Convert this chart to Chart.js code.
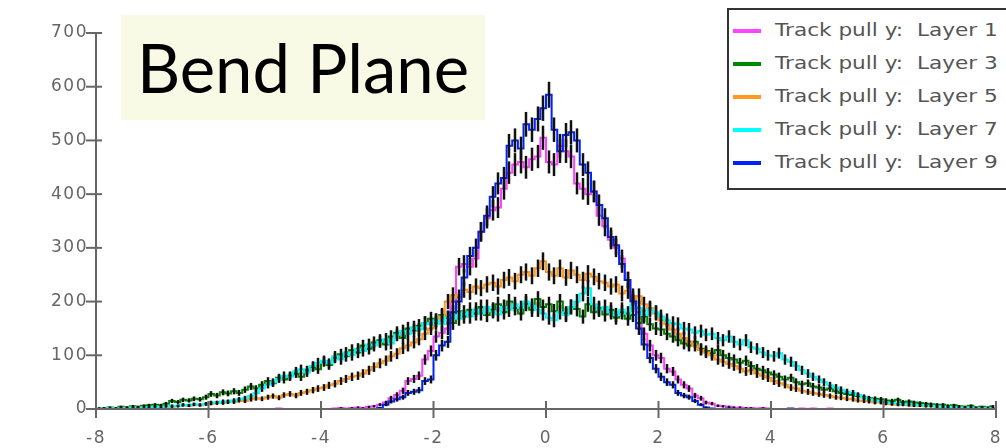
<!DOCTYPE html>
<html>
<head>
<meta charset="utf-8">
<script src="https://cdn.jsdelivr.net/npm/chart.js@4/dist/chart.umd.min.js"></script>
<style>
html,body{margin:0;padding:0;background:#fff;overflow:hidden}
#wrap{position:relative;width:1006px;height:448px;overflow:hidden}
#title{position:absolute;left:121px;top:15px;width:364px;height:105px;background:#f8fae6;font-family:Lato,sans-serif;font-size:67px;color:#000;line-height:105px;text-align:center}
#legend{position:absolute;left:727px;top:8px;width:300px;height:178px;border:2px solid #333;background:#fff;font-family:"DejaVu Sans",sans-serif;font-size:18px;color:#555}
.row{position:absolute;left:4px;height:22px;line-height:22px;white-space:pre}
.sw{display:inline-block;width:28px;height:4px;vertical-align:middle;margin-right:14px}
.txt{display:inline-block;transform:scaleX(1.2);transform-origin:0 50%}
</style>
</head>
<body>
<div id="wrap">
  <canvas id="pulls" width="1006" height="448"></canvas>
  <div id="title">Bend Plane</div>
  <div id="legend"></div>
</div>
<script>
// histogram: 160 bins of 0.1 from -8 to 8
const xMin = -8, binWidth = 0.1;
const xTicks = [-8, -6, -4, -2, 0, 2, 4, 6, 8];
const yTicks = [0, 100, 200, 300, 400, 500, 600, 700];

const layer1 = [
  0,0,0,0,0,0,0,0,0,0,
  0,0,0,0,0,0,0,0,0,0,
  0,0,0,0,0,0,0,0,0,0,
  0,0,1,0,0,0,0,0,0,0,
  0,0,1,2,1,2,3,2,4,5,
  8,12,20,26,34,52,56,62,92,108,
  135,142,150,200,265,270,265,280,330,355,
  370,375,410,440,455,460,450,465,470,505,
  460,455,490,480,470,420,410,400,405,360,
  340,315,300,280,240,210,180,140,118,100,
  95,75,70,55,45,38,25,20,12,10,
  6,5,4,3,3,2,2,1,2,1,
  0,0,0,0,0,1,0,1,0,0,
  1,0,0,0,0,0,0,0,0,0,
  0,0,0,0,0,0,0,0,0,0,
  0,0,0,0,0,0,0,0,0,0
];
const layer3 = [
  2,2,3,2,4,3,5,4,6,7,
  8,7,10,15,13,17,16,19,18,22,
  28,25,31,29,33,30,36,42,38,45,
  52,48,58,55,62,66,60,72,78,74,
  88,82,95,102,98,110,105,118,112,124,
  128,120,135,142,132,150,146,155,160,168,
  165,175,170,160,182,172,185,178,190,175,
  185,195,180,200,188,178,196,185,205,190,
  195,182,200,178,190,186,172,195,180,188,
  176,185,170,180,168,175,160,172,158,150,
  148,140,135,128,122,118,125,112,108,104,
  110,100,95,92,86,90,80,75,72,68,
  64,60,55,58,50,46,48,42,40,36,
  38,33,30,28,26,24,22,20,19,18,
  16,15,17,13,14,12,11,10,9,8,
  8,6,7,5,4,6,3,4,3,5
];
const layer5 = [
  1,2,1,2,2,3,2,3,2,3,
  4,3,5,4,6,7,6,8,7,9,
  10,12,11,14,13,16,15,18,20,19,
  22,24,21,26,28,25,30,32,35,38,
  40,44,47,52,56,60,62,66,72,78,
  85,90,98,103,113,118,124,130,140,150,
  160,172,200,212,208,222,218,228,225,232,
  235,228,240,245,238,250,255,248,262,275,
  255,248,262,245,258,250,240,252,246,238,
  235,228,232,215,220,205,210,195,188,178,
  165,158,148,140,132,125,118,110,105,100,
  92,88,84,80,75,70,72,66,62,58,
  52,48,45,40,38,34,32,30,28,26,
  24,22,21,19,18,16,15,14,12,12,
  10,9,8,8,7,6,6,5,5,4,
  4,3,3,2,3,2,2,2,1,2
];
const layer7 = [
  1,1,2,1,2,2,3,2,3,3,
  4,3,5,6,5,8,7,9,8,10,
  12,11,14,13,16,18,20,24,30,38,
  45,50,56,62,60,70,74,68,80,86,
  90,85,98,92,105,100,112,108,120,118,
  125,130,122,138,145,140,152,148,160,158,
  165,158,170,175,168,180,172,185,178,190,
  182,176,190,185,195,188,200,192,185,178,
  170,165,180,175,190,200,215,225,195,185,
  190,180,175,185,178,195,188,175,185,180,
  172,165,160,158,150,148,142,145,138,140,
  132,128,135,125,120,128,115,112,105,100,
  98,104,92,88,80,72,66,60,55,50,
  44,40,36,32,30,26,22,18,16,14,
  12,11,10,9,10,8,7,6,6,5,
  4,4,3,3,2,3,2,2,1,2
];
const layer9 = [
  0,0,0,0,0,0,0,0,0,0,
  0,0,0,0,0,0,0,0,0,0,
  0,0,0,0,0,0,0,0,0,0,
  0,0,0,0,0,0,0,0,0,0,
  0,0,0,0,0,0,0,0,0,0,
  2,8,14,18,22,30,32,35,52,55,
  100,118,125,180,200,245,285,300,330,360,
  395,420,430,490,500,485,530,520,540,560,
  585,520,480,510,515,500,455,440,405,380,
  355,320,305,270,240,200,150,120,95,75,
  60,50,45,30,25,22,15,8,3,1,
  0,0,1,0,0,0,0,0,0,0,
  0,0,0,1,0,0,0,0,0,0,
  0,0,0,0,0,0,0,0,0,0,
  0,0,0,0,0,0,0,0,0,0,
  0,0,0,0,0,0,0,0,0,0
];

const seriesNames = ['Track pull y:  Layer 1','Track pull y:  Layer 3','Track pull y:  Layer 5','Track pull y:  Layer 7','Track pull y:  Layer 9'];
const seriesValues = [layer1, layer3, layer5, layer7, layer9];
const seriesColors = ['#ff44ff','#008800','#ff9922','#00ffff','#0022ff'];
const seriesOrder = [4, 3, 2, 1, 0];

function toPoints(vals){ return vals.map((v,i)=>({x: xMin + binWidth*(i+0.5), y: v})); }

const datasets = seriesValues.map((vals,k)=>({
  label: seriesNames[k],
  data: toPoints(vals),
  borderColor: seriesColors[k],
  borderWidth: 2,
  pointRadius: 0,
  fill: false,
  stepped: 'middle',
  order: seriesOrder[k]
}));

// slightly wide tick lettering like the original
const spacing = {
  id: 'spacing',
  beforeUpdate(c){ c.ctx.letterSpacing = '1.5px'; },
  beforeDraw(c){ c.ctx.letterSpacing = '1.5px'; }
};

// sqrt(N) error bars on every filled bin
const errorBars = {
  id: 'errorBars',
  afterDatasetsDraw(chart){
    const {ctx, chartArea, scales:{x, y}} = chart;
    ctx.save();
    ctx.beginPath(); ctx.rect(chartArea.left, chartArea.top-10, chartArea.width, chartArea.height+10); ctx.clip();
    ctx.strokeStyle = '#111'; ctx.lineWidth = 2.5;
    chart.data.datasets.forEach(ds=>{
      ds.data.forEach(p=>{
        if(p.y <= 0) return;
        const e = Math.sqrt(p.y);
        const px = Math.round(x.getPixelForValue(p.x));
        ctx.beginPath();
        ctx.moveTo(px, y.getPixelForValue(p.y - e));
        ctx.lineTo(px, y.getPixelForValue(p.y + e));
        ctx.stroke();
      });
    });
    ctx.restore();
  }
};

// axis lines on top of the histograms, with ticks crossing them
const crossTicks = {
  id: 'crossTicks',
  afterDraw(chart){
    const {ctx, chartArea, scales:{x, y}} = chart;
    ctx.save(); ctx.strokeStyle = '#666'; ctx.lineWidth = 2;
    ctx.beginPath(); ctx.moveTo(chartArea.left, chartArea.bottom); ctx.lineTo(chartArea.right, chartArea.bottom); ctx.stroke();
    ctx.beginPath(); ctx.moveTo(chartArea.left, chartArea.bottom); ctx.lineTo(chartArea.left, chartArea.top); ctx.stroke();
    x.ticks.forEach(t=>{ const px = x.getPixelForValue(t.value); ctx.beginPath(); ctx.moveTo(px, x.top-8); ctx.lineTo(px, x.top+9); ctx.stroke(); });
    y.ticks.forEach(t=>{ const py = y.getPixelForValue(t.value); ctx.beginPath(); ctx.moveTo(y.right-10, py); ctx.lineTo(y.right+6, py); ctx.stroke(); });
    ctx.restore();
  }
};

const tickFont = {family: 'DejaVu Sans', size: 17};

new Chart(document.getElementById('pulls'), {
  type: 'line',
  data: {datasets},
  plugins: [spacing, errorBars, crossTicks],
  options: {
    responsive: false,
    animation: false,
    layout: {padding: {top: 33, right: 10, left: 0, bottom: 0}},
    plugins: {legend: {display: false}, tooltip: {enabled: false}},
    scales: {
      x: {
        type: 'linear', min: -8, max: 8,
        afterBuildTicks: s => { s.ticks = xTicks.map(v=>({value: v})); },
        afterFit: s => { s.height = 39; s.paddingLeft = 0; s.paddingRight = 0; },
        ticks: {color: '#666', font: tickFont, padding: 19, maxRotation: 0, autoSkip: false, callback: v => String(v)},
        grid: {display: false, drawTicks: false},
        border: {display: true, color: '#666', width: 2}
      },
      y: {
        min: 0, max: 700,
        afterBuildTicks: s => { s.ticks = yTicks.map(v=>({value: v})); },
        afterFit: s => { s.width = 96; },
        ticks: {color: '#666', font: tickFont, padding: 8, callback: v => String(v)},
        grid: {display: false, drawTicks: false},
        border: {display: true, color: '#666', width: 2}
      }
    }
  }
});

// legend box
const legend = document.getElementById('legend');
seriesNames.forEach((name,k)=>{
  const row = document.createElement('div');
  row.className = 'row';
  row.style.top = (9 + 33*k) + 'px';
  row.innerHTML = '<span class="sw" style="background:'+seriesColors[k]+'"></span><span class="txt">' + name + '</span>';
  legend.appendChild(row);
});
</script>
</body>
</html>
